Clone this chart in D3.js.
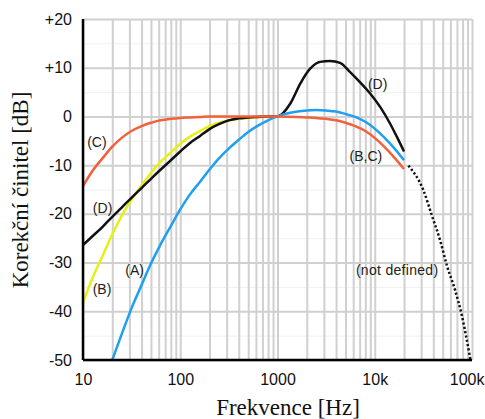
<!DOCTYPE html>
<html lang="cs">
<head>
  <meta charset="UTF-8" />
  <title>Korekční křivky A, B, C, D</title>
  <script src="https://d3js.org/d3.v7.min.js"></script>
  <style>
    body {
      margin: 0;
      background: #ffffff;
    }
    .grid line { stroke: #d0d0d0; stroke-width: 2; }
    .grid-minor line { stroke: #f0f0f0; stroke-width: 1; }
    .grid path, .grid-minor path { display: none; }
    .tick-lbl text {
      font-family: 'Liberation Sans', Arial, sans-serif;
      font-size: 16px;
      fill: #111;
    }
    .tick-lbl path, .tick-lbl line { display: none; }
    .curve { fill: none; stroke-width: 2.5; stroke-linejoin: round; }
    .lbl {
      font-family: 'Liberation Sans', Arial, sans-serif;
      font-size: 14px;
      fill: #222;
    }
    .title {
      font-family: 'Liberation Serif', 'Times New Roman', serif;
      font-size: 23px;
      fill: #111;
    }
  </style>
</head>
<body>
  <div id="chart"></div>
  <script>
    // frekvence [Hz] a korekce [dB]
    const freqA = [20, 25, 31.5, 40, 50, 63, 80, 100, 125, 160, 200, 250, 315, 400, 500, 630, 800, 1000,
                   1250, 1600, 2000, 2500, 3150, 4000, 5000, 6300, 8000, 10000, 12500, 16000, 20000];
    const valA  = [-50, -44.7, -39.4, -34.6, -30.2, -26.2, -22.5, -19.1, -16.1, -13.4, -10.9, -8.6, -6.6, -4.8, -3.2, -1.9, -0.8, 0,
                   0.6, 1.0, 1.2, 1.3, 1.2, 1.0, 0.5, -0.1, -1.1, -2.5, -4.3, -6.6, -9.0];

    const freqB = [10, 12.5, 16, 20, 25, 31.5, 40, 50, 63, 80, 100, 125, 160, 200, 250, 315, 400, 500, 630, 800, 1000];
    const valB  = [-38.2, -33.2, -28.5, -24.2, -20.4, -17.1, -14.2, -11.6, -9.3, -7.4, -5.6, -4.2, -3.0, -2.0, -1.3, -0.8, -0.5, -0.3, -0.1, 0, 0];

    const freqC = [10, 12.5, 16, 20, 25, 31.5, 40, 50, 63, 80, 100, 125, 160, 200, 400, 1000,
                   1600, 2000, 2500, 3150, 4000, 5000, 6300, 8000, 10000, 12500, 16000, 20000];
    const valC  = [-14.3, -11.2, -8.5, -6.2, -4.4, -3.0, -2.0, -1.3, -0.8, -0.5, -0.3, -0.2, -0.1, 0, 0, 0,
                   -0.1, -0.2, -0.3, -0.5, -0.8, -1.3, -2.0, -3.0, -4.4, -6.2, -8.5, -10.8];

    const freqD = [10, 12.5, 16, 20, 25, 31.5, 40, 50, 63, 80, 100, 125, 160, 200, 250, 315, 400, 500, 630, 800, 1000,
                   1350, 1710, 2165, 2740, 3475, 4400, 5580, 7080, 8970, 11400, 14400, 16900, 20000];
    const valD  = [-26.4, -24.6, -22.6, -20.6, -18.7, -16.7, -14.7, -12.8, -10.9, -9.0, -7.2, -5.5, -4.0, -2.6, -1.6, -0.8, -0.4, -0.2, -0.1, 0, 0,
                   2.6, 6.7, 9.8, 11.2, 11.4, 11.0, 9.1, 7.0, 4.7, 1.9, -1.5, -4.2, -7.2];

    // nedefinovaná oblast nad 20 kHz
    const freqX = [22200, 31700, 38600, 47100, 55200, 67100, 78700, 96000];
    const valX  = [-10.1, -15.2, -20.3, -25.5, -30.6, -35.7, -40.9, -49.8];

    const yTicks = [-50, -40, -30, -20, -10, 0, 10, 20];
    const yMinor = [-45, -35, -25, -15, -5, 5, 15];
    const xTicks = [10, 100, 1000, 10000, 100000];
    const xTickLabels = ["10", "100", "1000", "10k", "100k"];

    const W = 485, H = 419;
    const margin = { top: 19, right: 13, bottom: 59, left: 83 };
    const width = W - margin.left - margin.right;
    const height = H - margin.top - margin.bottom;

    const svg = d3.select("#chart").append("svg")
      .attr("width", W)
      .attr("height", H);
    const g = svg.append("g").attr("transform", `translate(${margin.left},${margin.top})`);

    const x = d3.scaleLog().domain([10, 100000]).range([0, width]);
    const y = d3.scaleLinear().domain([-50, 20]).range([height, 0]);

    svg.append("defs").append("clipPath").attr("id", "clip")
      .append("rect").attr("width", width).attr("height", height);

    // mřížka
    const gridX = [];
    for (let dec = 10; dec < 100000; dec *= 10) {
      for (let k = 1; k < 10; k++) gridX.push(dec * k);
    }
    gridX.push(100000);

    g.append("g").attr("class", "grid-minor")
      .call(d3.axisLeft(y).tickValues(yMinor).tickSize(-width).tickFormat(""));
    g.append("g").attr("class", "grid")
      .attr("transform", `translate(0,${height})`)
      .call(d3.axisBottom(x).tickValues(gridX).tickSize(-height).tickFormat(""));
    g.append("g").attr("class", "grid")
      .call(d3.axisLeft(y).tickValues(yTicks).tickSize(-width).tickFormat(""));

    // popisky os
    g.append("g").attr("class", "tick-lbl")
      .call(d3.axisLeft(y).tickValues(yTicks).tickSize(0).tickPadding(11)
        .tickFormat(d => d > 0 ? "+" + d : String(d)));
    const xLbl = g.append("g").attr("class", "tick-lbl")
      .attr("transform", `translate(0,${height})`)
      .call(d3.axisBottom(x).tickValues(xTicks).tickSize(0).tickPadding(14)
        .tickFormat((d, i) => xTickLabels[i]));
    // poslední popisek u pravého okraje
    xLbl.selectAll(".tick text")
      .filter(d => d === 100000)
      .attr("text-anchor", "end")
      .attr("x", 12);

    // křivky
    const line = d3.line()
      .x(d => x(d[0]))
      .y(d => y(d[1]))
      .curve(d3.curveMonotoneX);

    const curves = g.append("g").attr("clip-path", "url(#clip)");
    const series = [
      { f: freqB, v: valB, color: "#e4f016" },
      { f: freqD, v: valD, color: "#111111" },
      { f: freqA, v: valA, color: "#1f9ff0" },
      { f: freqC, v: valC, color: "#f0623c" }
    ];
    series.forEach(s => {
      curves.append("path")
        .datum(d3.zip(s.f, s.v))
        .attr("class", "curve")
        .attr("stroke", s.color)
        .attr("d", line);
    });

    curves.append("path")
      .datum(d3.zip(freqX, valX))
      .attr("class", "curve")
      .attr("stroke", "#111")
      .attr("stroke-width", 2.5)
      .attr("stroke-dasharray", "2.2 2.2")
      .attr("d", line);

    // osy
    g.append("line")
      .attr("x1", 0).attr("x2", 0).attr("y1", 0).attr("y2", height)
      .attr("stroke", "#000").attr("stroke-width", 2.5);
    g.append("line")
      .attr("x1", 0).attr("x2", width).attr("y1", height).attr("y2", height)
      .attr("stroke", "#000").attr("stroke-width", 2.5);

    // označení křivek
    const labels = [
      { t: "(C)", f: 13.9, v: -5.2 },
      { t: "(D)", f: 15.9, v: -18.9 },
      { t: "(B)", f: 15.7, v: -35.5 },
      { t: "(A)", f: 33.9, v: -31.6 },
      { t: "(D)", f: 10700, v: 6.7 },
      { t: "(B,C)", f: 8100, v: -8.2 },
      { t: "(not defined)", f: 17000, v: -31.5 }
    ];
    g.selectAll(".lbl").data(labels).enter().append("text")
      .attr("class", "lbl")
      .attr("x", d => x(d.f))
      .attr("y", d => y(d.v))
      .attr("dy", "0.35em")
      .attr("text-anchor", "middle")
      .attr("letter-spacing", d => d.t.length > 5 ? "0.3px" : null)
      .text(d => d.t);

    svg.append("text")
      .attr("class", "title")
      .attr("x", 288).attr("y", 415)
      .attr("text-anchor", "middle")
      .text("Frekvence [Hz]");

    svg.append("text")
      .attr("class", "title")
      .attr("transform", "translate(28,190) rotate(-90)")
      .attr("text-anchor", "middle")
      .text("Korekční činitel [dB]");
  </script>
</body>
</html>
